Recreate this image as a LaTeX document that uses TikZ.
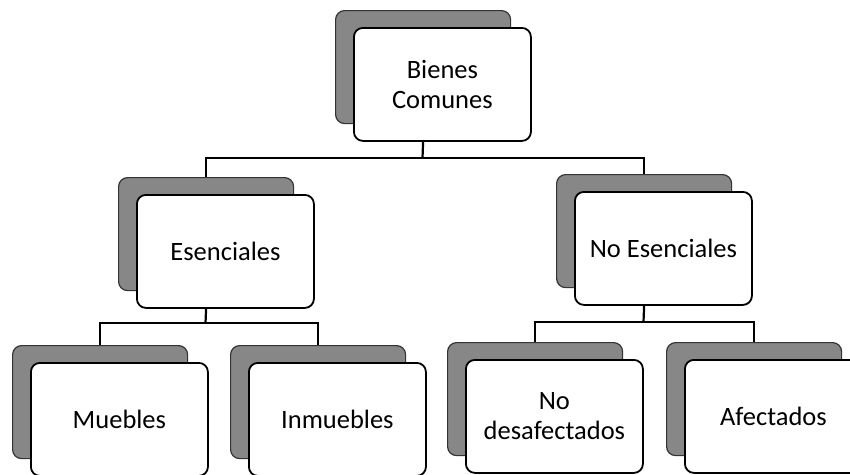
\documentclass[tikz,border=0pt]{standalone}
\usepackage{fontspec}
\setmainfont{Carlito}
\begin{document}
\begin{tikzpicture}[x={(1pt,0)},y={(0,-1pt)},
  backbox/.style={draw=black!80,line width=1.2pt,fill=black!47,rounded corners=9pt,
    minimum width=175pt,minimum height=113pt,anchor=north west,inner sep=0pt},
  frontbox/.style={draw=black,line width=1.8pt,fill=white,rounded corners=9pt,
    minimum width=177pt,minimum height=113pt,anchor=north west,inner sep=0pt,
    align=center,font=\fontsize{26.5}{30}\selectfont},
  conn/.style={draw=black,line width=2.2pt}]
\useasboundingbox (0,0) rectangle (850,474);
\clip (0,0) rectangle (850,474);
\fill[white] (0,0) rectangle (850,474);
% junction coordinates
\coordinate (j1) at (422.5,158);
\coordinate (j2) at (205.5,323);
\coordinate (j3) at (643.5,322);
% back boxes
\node[backbox] (bB) at (335,10) {};
\node[backbox] (bE) at (118,177) {};
\node[backbox] (bN) at (556,174) {};
\node[backbox] (bM) at (12,345) {};
\node[backbox] (bI) at (230,345) {};
\node[backbox] (bD) at (447,342) {};
\node[backbox] (bA) at (666,342) {};
% front boxes
\node[frontbox] (B) at (353,27) {Bienes\\Comunes};
\node[frontbox] (E) at (136,194) {Esenciales};
\node[frontbox] (N) at (574,191) {No Esenciales};
\node[frontbox] (M) at (30,362) {Muebles};
\node[frontbox] (I) at (248,362) {Inmuebles};
\node[frontbox] (D) at (465,359) {No\\desafectados};
\node[frontbox] (A) at (684,359) {Afectados};
% connectors
\draw[conn] (bB |- B.south) -- (j1);
\draw[conn] (bE.north) |- (j1) -| (bN.north);
\draw[conn] (bE |- E.south) -- (j2);
\draw[conn] (bM.north) |- (j2) -| (bI.north);
\draw[conn] (bN |- N.south) -- (j3);
\draw[conn] (bD.north) |- (j3) -| (bA.north);
\end{tikzpicture}
\end{document}
